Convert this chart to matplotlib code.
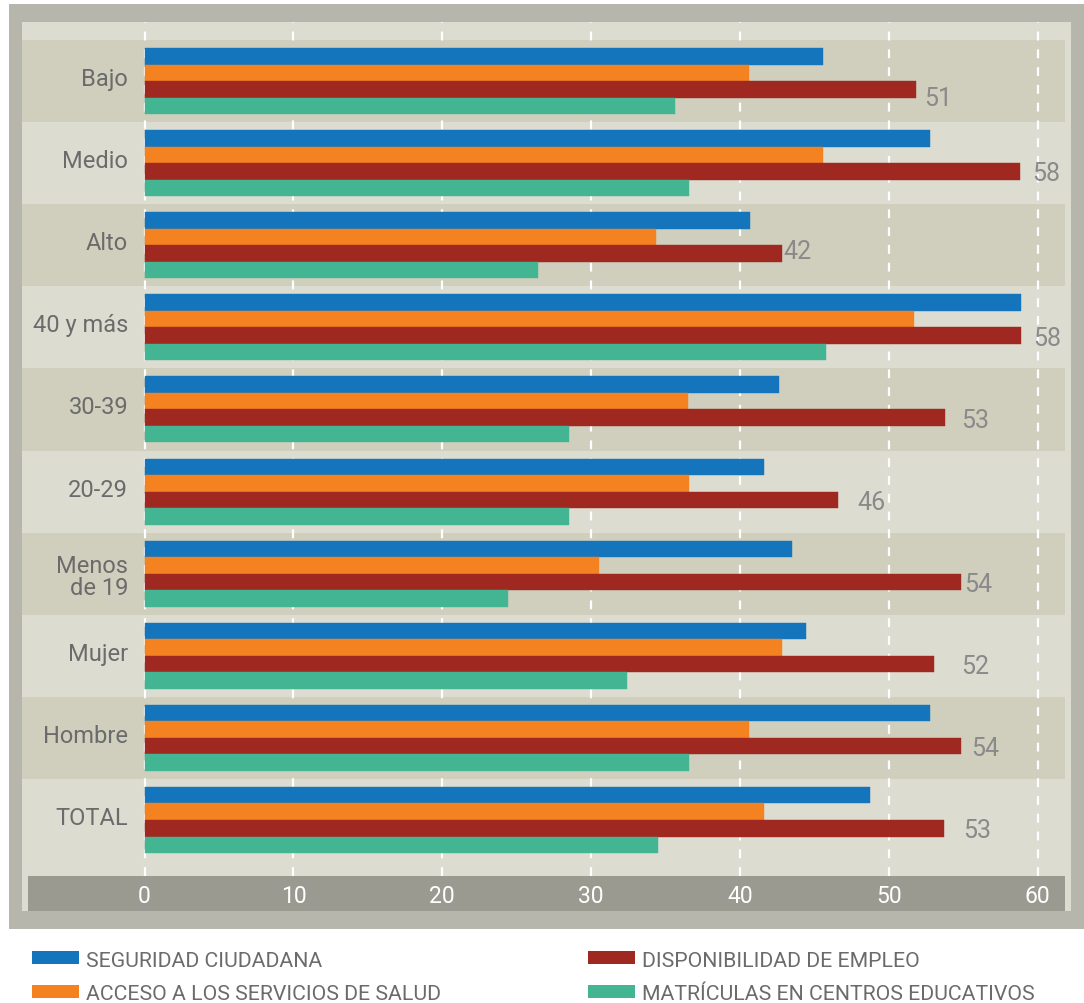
import matplotlib
matplotlib.use("Agg")
import matplotlib.pyplot as plt
from matplotlib.patches import Rectangle
from matplotlib.transforms import offset_copy

plt.rcParams['font.family'] = ['Roboto', 'DejaVu Sans']

# data
categories = ["Bajo", "Medio", "Alto", "40 y más", "30-39", "20-29",
              "Menos\nde 19", "Mujer", "Hombre", "TOTAL"]
seguridad = [45.6, 52.75, 40.7, 58.9, 42.6, 41.6, 43.5, 44.4, 52.75, 48.7]
salud = [40.6, 45.6, 34.35, 51.7, 36.5, 36.6, 30.5, 42.8, 40.6, 41.6]
empleo = [51.8, 58.8, 42.8, 58.9, 53.8, 46.6, 54.85, 53.0, 54.85, 53.7]
matriculas = [35.6, 36.6, 26.4, 45.8, 28.5, 28.5, 24.4, 32.4, 36.6, 34.5]
empleo_labels = ["51", "58", "42", "58", "53", "46", "54", "52", "54", "53"]
series_names = ["SEGURIDAD CIUDADANA", "ACCESO A LOS SERVICIOS DE SALUD",
                "DISPONIBILIDAD DE EMPLEO", "MATRÍCULAS EN CENTROS EDUCATIVOS"]
xticks = [0, 10, 20, 30, 40, 50, 60]

colors = ["#1475bc", "#f58220", "#9f2921", "#43b592"]
frame_col = "#b7b6ad"
panel_col = "#dddcd0"
band_col = "#d0cfbd"
axisbar_col = "#9b9a91"
text_col = "#6b6b6b"
value_col = "#8a8a8a"

# label nudges in pixels (dx after bar end, dy downwards)
label_dx = [8, 12.5, 2, 11.5, 15.5, 19, 3.5, 27.5, 10.5, 19.5]
label_dy = [6.5, 0, -5, 0, 0, 0, 0, 0, 0, 0]

W, H = 1084, 1004
fig = plt.figure(figsize=(W / 100, H / 100), dpi=100)
fig.patch.set_facecolor("white")


def frect(x0, y0, x1, y1, color, z):
    r = Rectangle((x0 / W, 1 - y1 / H), (x1 - x0) / W, (y1 - y0) / H,
                  transform=fig.transFigure, facecolor=color, edgecolor="none", zorder=z)
    fig.patches.append(r)


frect(9, 5, 1084, 930, frame_col, -3)
frect(22, 23, 1071, 912, panel_col, -2)
frect(28, 877, 1065, 912, axisbar_col, -1)

ax_top, ax_bot = 23, 877
ax = fig.add_axes([22 / W, 1 - ax_bot / H, (1065 - 22) / W, (ax_bot - ax_top) / H])
ax.set_facecolor(panel_col)
ax.set_xlim(-8.23, 61.83)
ax.set_ylim(9.682, -0.719)
for s in ax.spines.values():
    s.set_visible(False)
ax.set_xticks([])
ax.set_yticks([])

n = len(categories)
for i in range(0, n, 2):
    ax.axhspan(i - 0.5, i + 0.5, color=band_col, lw=0, zorder=0)

for v in xticks:
    ax.axvline(v, color="white", lw=1.6, ls=(0, (4, 4)), zorder=1)

h = 0.201
ypos = list(range(n))
all_series = [seguridad, salud, empleo, matriculas]
for k, (vals, c) in enumerate(zip(all_series, colors)):
    off = (k - 1.5) * h
    ax.barh([y + off for y in ypos], vals, height=h, color=c,
            edgecolor=c, lw=0.3, zorder=2)

# value labels on employment bars
for i in range(n):
    y = i + 0.5 * h
    tr = offset_copy(ax.transData, fig=fig, x=label_dx[i], y=-(label_dy[i] + 9.1), units="dots")
    ax.text(empleo[i], y, empleo_labels[i], transform=tr, ha="left", va="baseline",
            fontsize=18, color=value_col, zorder=3)

# category labels
for i, lab in enumerate(categories):
    lines = lab.split("\n")
    base = 4 - 5.3 * (len(lines) - 1)
    for j, line in enumerate(lines):
        tr = offset_copy(ax.transData, fig=fig, x=-16.5, y=-(base + 21.7 * j), units="dots")
        ax.text(0, i, line, transform=tr, ha="right", va="baseline",
                fontsize=17, color=text_col, zorder=3)

# x tick labels on the grey bar
for v in xticks:
    ax.text(v, -(902.7 - ax_bot) / (ax_bot - ax_top), str(v), transform=ax.get_xaxis_transform(),
            ha="center", va="baseline", fontsize=16.5, color="white", clip_on=False)

# legend
leg_pos = [(32, 952.3), (32, 986), (588, 952.3), (588, 986)]
for (x0, y0), name, c in zip(leg_pos, series_names, colors):
    frect(x0, y0, x0 + 47, y0 + 12.7, c, 2)
    fig.text((x0 + 54) / W, 1 - (y0 + 14.4) / H, name, ha="left", va="baseline",
             fontsize=15.3, color=text_col)

fig.savefig("out.png", dpi=100, facecolor="white")
